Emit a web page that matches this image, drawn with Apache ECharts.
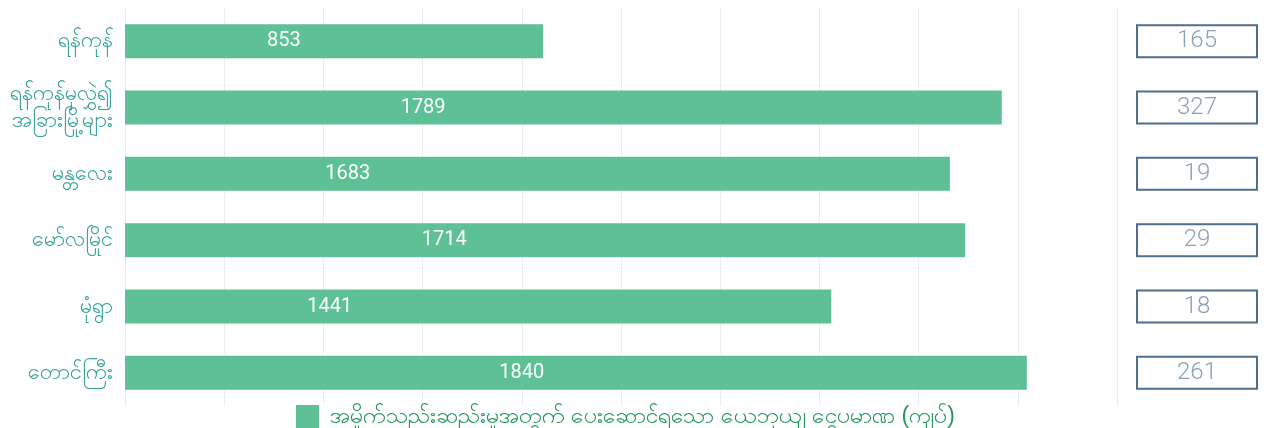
<!DOCTYPE html>
<html>
<head>
<meta charset="utf-8">
<script src="https://cdn.jsdelivr.net/npm/echarts@6/dist/echarts.min.js"></script>
<style>
  html, body { margin: 0; padding: 0; background: #fff; }
  #chart { width: 1266px; height: 428px; }
</style>
</head>
<body>
<div id="chart"></div>
<script>
// 데이터
const regions = ['ရန်ကုန်', 'ရန်ကုန်မှလွှဲ၍\nအခြားမြို့များ', 'မန္တလေး', 'မော်လမြိုင်', 'မုံရွာ', 'တောင်ကြီး']
const payments = [853, 1789, 1683, 1714, 1441, 1840]
const counts = [165, 327, 19, 29, 18, 261]
const seriesName = 'အမှိုက်သည်းဆည်းမှုအတွက် ပေးဆောင်ရသော ယေဘုယျ ငွေပမာဏ (ကျပ်)'

// 막대 안 숫자 위치 (스타일)
const labelAt = ['38%', '34%', '27%', '38%', '29%', '44%']

const axisMax = Math.round(Math.max(...payments) * 1.1)

const chart = echarts.init(document.getElementById('chart'))
chart.setOption({
  animation: false,
  grid: { left: 125, right: 149, top: 8, bottom: 22 },
  legend: {
    left: 291,
    top: 400,
    itemWidth: 23,
    itemHeight: 23,
    icon: 'rect',
    textStyle: { color: '#25995a', fontSize: 23, padding: [0, 0, 0, 6] },
    data: [seriesName]
  },
  xAxis: {
    type: 'value',
    min: 0,
    max: axisMax,
    interval: axisMax / 10,
    axisLabel: { show: false },
    axisLine: { show: false },
    axisTick: { show: false },
    splitLine: { lineStyle: { color: '#ececec', width: 1 } }
  },
  yAxis: [{
    type: 'category',
    inverse: true,
    data: regions,
    axisLine: { show: false },
    axisTick: { show: false },
    axisLabel: { margin: 12, color: '#36a29c', fontSize: 22, lineHeight: 27 }
  }, {
    type: 'category',
    inverse: true,
    position: 'right',
    data: regions,
    axisLine: { show: false },
    axisTick: { show: false },
    axisLabel: {
      margin: 80,
      align: 'center',
      formatter: (v, i) => String(counts[i]),
      color: '#8aa0b6',
      fontFamily: 'Roboto',
      fontWeight: 300,
      fontSize: 24,
      width: 120,
      height: 32,
      lineHeight: 32,
      borderColor: '#4f6e89',
      borderWidth: 2
    }
  }],
  series: [{
    name: seriesName,
    type: 'bar',
    barWidth: 34,
    itemStyle: { color: '#5ec196' },
    data: payments.map((v, i) => ({
      value: v,
      label: { position: [labelAt[i], '50%'] }
    })),
    label: {
      show: true,
      align: 'center',
      verticalAlign: 'middle',
      color: '#fff',
      fontFamily: 'Roboto',
      fontSize: 20
    }
  }]
})
</script>
</body>
</html>
